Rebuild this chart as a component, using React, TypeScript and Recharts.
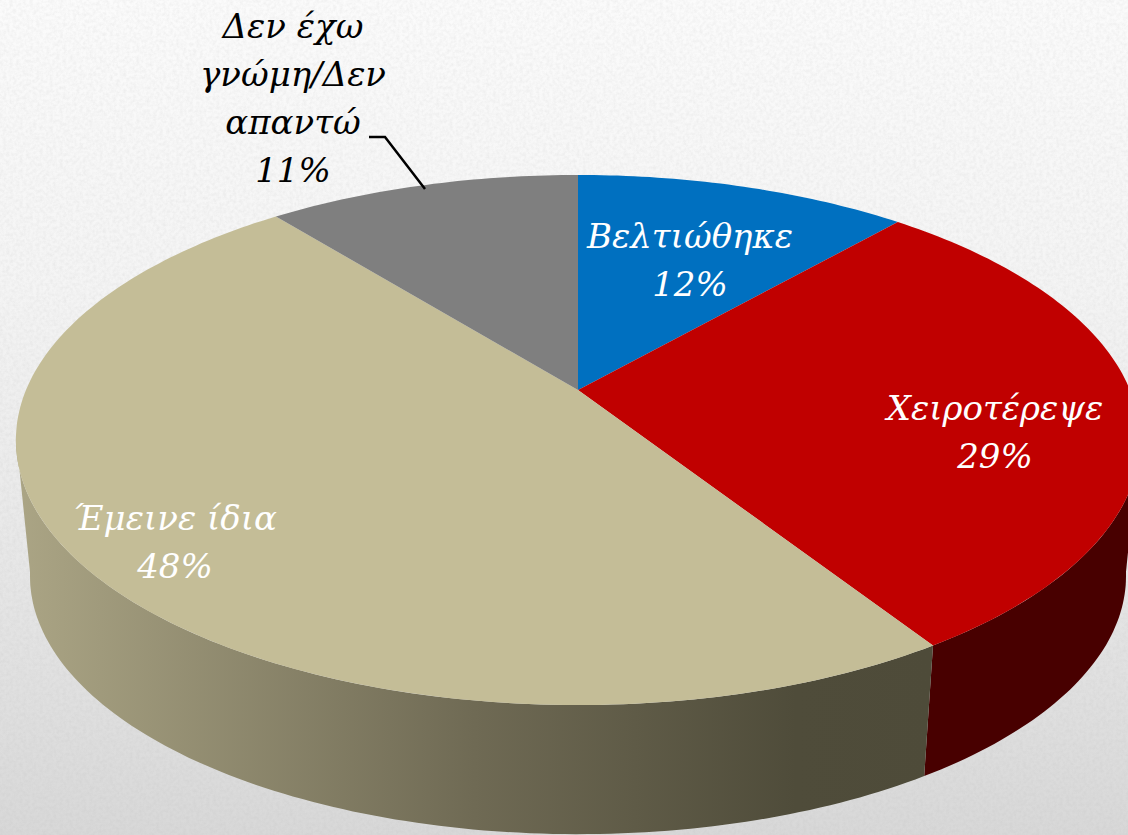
import { PieChart, Pie } from 'recharts';

const categories = ['Βελτιώθηκε', 'Χειροτέρεψε', 'Έμεινε ίδια', 'Δεν έχω γνώμη/Δεν απαντώ'];
const shares = [11.5, 29.4, 48.3, 10.8];
const colors = ['#0070C0', '#C00000', '#C4BD97', '#7F7F7F'];
const wallFills = ['#003A66', '#480000', 'url(#beigeWall)', '#444444'];
const labelColors = ['#fff', '#fff', '#fff', '#000'];
const labelLines = [['Βελτιώθηκε'], ['Χειροτέρεψε'], ['Έμεινε ίδια'], ['Δεν έχω', 'γνώμη/Δεν', 'απαντώ']];
const labelCenters = [[690, 248], [995, 420], [175, 530], [293, 38]];

const data = categories.map((name, i) => ({ name, value: shares[i] }));

const W = 1128;
const H = 835;
const FONT = '"DejaVu Serif", serif';

// tilted disc: the circle from the Pie is projected so the far edge shrinks
const SKEW = -0.1887;
const SCALE_X = 552 / 270;
const SCALE_Y = 255.6 / 270;
const CY_TOP = 390;
const WALL_SHIFT = 527 - 390;
const WALL_SCALE = 0.975;

function project(cx: number, r: number, theta: number, bottom = false) {
  const rad = (theta * Math.PI) / 180;
  const u = (Math.sin(rad) * r) / 270;
  const v = (-Math.cos(rad) * r) / 270;
  const d = 1 + SKEW * v;
  const s = bottom ? WALL_SCALE : 1;
  return [
    cx + (s * SCALE_X * 270 * u) / d,
    CY_TOP + (bottom ? WALL_SHIFT : 0) + (s * SCALE_Y * 270 * v) / d,
  ];
}

function arcPoints(cx: number, r: number, from: number, to: number, bottom = false) {
  const pts: number[][] = [];
  const n = Math.max(2, Math.ceil(Math.abs(to - from)));
  for (let i = 0; i <= n; i++) pts.push(project(cx, r, from + ((to - from) * i) / n, bottom));
  return pts;
}

const toPath = (pts: number[][]) => 'M' + pts.map((p) => p[0].toFixed(1) + ',' + p[1].toFixed(1)).join('L') + 'Z';

function DiscSlice(props: any) {
  const { cx, outerRadius, startAngle, endAngle, index } = props;
  const from = 90 - startAngle;
  const to = 90 - endAngle;
  const wallFrom = Math.max(from, 100);
  const wallTo = Math.min(to, 260);
  const top = [[cx, CY_TOP], ...arcPoints(cx, outerRadius, from, to)];
  return (
    <g>
      {wallTo > wallFrom && (
        <path
          d={toPath([
            ...arcPoints(cx, outerRadius, wallFrom, wallTo),
            ...arcPoints(cx, outerRadius, wallTo, wallFrom, true),
          ])}
          fill={wallFills[index]}
        />
      )}
      <path d={toPath(top)} fill={colors[index]} />
    </g>
  );
}

function SliceLabel(props: any) {
  const { index, value } = props;
  const [x, y] = labelCenters[index];
  const lines = [...labelLines[index], Math.round(value) + '%'];
  return (
    <g>
      <text x={x} y={y} textAnchor="middle" fontFamily={FONT} fontStyle="italic" fontSize={34} fill={labelColors[index]}>
        {lines.map((line, i) => (
          <tspan key={i} x={x} dy={i === 0 ? 0 : 48}>
            {line}
          </tspan>
        ))}
      </text>
      {index === 3 && <path d="M369,137H385L425,189" fill="none" stroke="#000" strokeWidth={2.5} />}
    </g>
  );
}

export default function App() {
  return (
    <div
      style={{
        position: 'absolute',
        left: 0,
        top: 0,
        width: W,
        height: H,
        overflow: 'hidden',
        background: 'linear-gradient(180deg, #fbfbfb 0%, #f4f4f4 35%, #e8e8e8 65%, #d8d8d8 100%)',
      }}
    >
      <svg width={W} height={H} style={{ position: 'absolute', left: 0, top: 0 }}>
        <filter id="paper">
          <feTurbulence type="fractalNoise" baseFrequency="0.3" numOctaves={3} seed={4} />
          <feColorMatrix values="0 0 0 0 0.45  0 0 0 0 0.45  0 0 0 0 0.45  0.9 0 0 0 -0.3" />
        </filter>
        <rect width={W} height={H} filter="url(#paper)" opacity={0.3} />
      </svg>
      <div style={{ position: 'absolute', left: 0, top: 0 }}>
        <PieChart width={W} height={H} margin={{ top: 0, right: 0, bottom: 0, left: 0 }}>
          <defs>
            <linearGradient id="beigeWall" x1="0" y1="0" x2="1" y2="0">
              <stop offset="0" stopColor="#ABA585" />
              <stop offset="0.5" stopColor="#6F6A54" />
              <stop offset="0.85" stopColor="#4F4C3A" />
              <stop offset="1" stopColor="#4E4B39" />
            </linearGradient>
          </defs>
          <Pie
            data={data}
            dataKey="value"
            nameKey="name"
            cx={578}
            cy={390}
            outerRadius={270}
            startAngle={90}
            endAngle={-270}
            stroke="none"
            shape={DiscSlice}
            label={SliceLabel}
            labelLine={false}
            isAnimationActive={false}
          />
        </PieChart>
      </div>
    </div>
  );
}
